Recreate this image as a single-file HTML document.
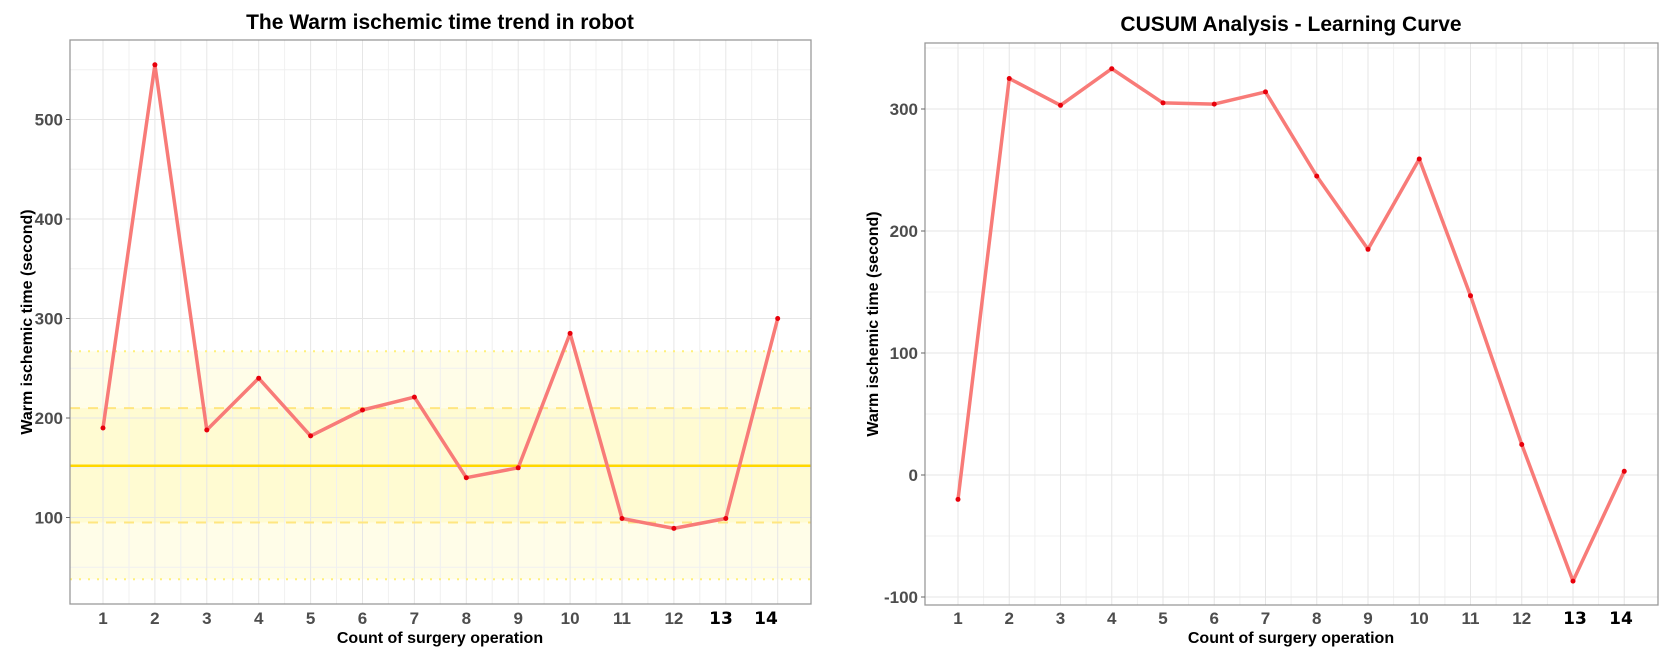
<!DOCTYPE html>
<html><head><meta charset="utf-8"><style>
html,body{margin:0;padding:0;background:#fff;}
svg{display:block;font-family:"Liberation Sans",Arial,sans-serif;}
.tk{font-size:17px;font-weight:bold;fill:#4d4d4d;}
.tb{font-size:17px;font-weight:bold;fill:#000;font-family:"DejaVu Sans","Liberation Sans",sans-serif;}
.at{font-size:16px;font-weight:bold;fill:#000;}
.tt{font-size:21px;font-weight:bold;fill:#000;}
</style></head><body>
<svg width="1671" height="653" viewBox="0 0 1671 653">
<!-- LEFT PANEL -->
<rect x="70" y="40" width="741" height="564" fill="#fff"/>
<rect x="70" y="351.3" width="741" height="227.9" fill="#fffde8"/>
<rect x="70" y="408.1" width="741" height="114.4" fill="#fffbd2"/>
<g stroke="#f0f0f0" stroke-width="1">
<line x1="70" x2="811" y1="567.3" y2="567.3"/><line x1="70" x2="811" y1="467.8" y2="467.8"/><line x1="70" x2="811" y1="368.3" y2="368.3"/><line x1="70" x2="811" y1="268.8" y2="268.8"/><line x1="70" x2="811" y1="169.3" y2="169.3"/><line x1="70" x2="811" y1="69.8" y2="69.8"/>
<line y1="40" y2="604" x1="129" x2="129"/><line y1="40" y2="604" x1="180.8" x2="180.8"/><line y1="40" y2="604" x1="232.7" x2="232.7"/><line y1="40" y2="604" x1="284.6" x2="284.6"/><line y1="40" y2="604" x1="336.5" x2="336.5"/><line y1="40" y2="604" x1="388.4" x2="388.4"/><line y1="40" y2="604" x1="440.3" x2="440.3"/><line y1="40" y2="604" x1="492.2" x2="492.2"/><line y1="40" y2="604" x1="544.1" x2="544.1"/><line y1="40" y2="604" x1="596" x2="596"/><line y1="40" y2="604" x1="647.9" x2="647.9"/><line y1="40" y2="604" x1="699.8" x2="699.8"/><line y1="40" y2="604" x1="751.7" x2="751.7"/>
</g>
<g stroke="#e6e6e6" stroke-width="1">
<line x1="70" x2="811" y1="517.5" y2="517.5"/><line x1="70" x2="811" y1="418" y2="418"/><line x1="70" x2="811" y1="318.5" y2="318.5"/><line x1="70" x2="811" y1="219" y2="219"/><line x1="70" x2="811" y1="119.5" y2="119.5"/>
<line y1="40" y2="604" x1="103" x2="103"/><line y1="40" y2="604" x1="154.9" x2="154.9"/><line y1="40" y2="604" x1="206.8" x2="206.8"/><line y1="40" y2="604" x1="258.7" x2="258.7"/><line y1="40" y2="604" x1="310.6" x2="310.6"/><line y1="40" y2="604" x1="362.5" x2="362.5"/><line y1="40" y2="604" x1="414.4" x2="414.4"/><line y1="40" y2="604" x1="466.3" x2="466.3"/><line y1="40" y2="604" x1="518.2" x2="518.2"/><line y1="40" y2="604" x1="570.1" x2="570.1"/><line y1="40" y2="604" x1="622" x2="622"/><line y1="40" y2="604" x1="673.9" x2="673.9"/><line y1="40" y2="604" x1="725.8" x2="725.8"/><line y1="40" y2="604" x1="777.7" x2="777.7"/>
</g>
<g stroke="#ffe34d" stroke-width="2">
<line x1="70" x2="811" y1="351.3" y2="351.3" stroke-dasharray="2 7" stroke="#fff07a"/>
<line x1="70" x2="811" y1="579.2" y2="579.2" stroke-dasharray="2 7" stroke="#fff07a"/>
<line x1="70" x2="811" y1="408.1" y2="408.1" stroke-dasharray="10 8" stroke="#ffe680"/>
<line x1="70" x2="811" y1="522.5" y2="522.5" stroke-dasharray="10 8" stroke="#ffe680"/>
<line x1="70" x2="811" y1="465.8" y2="465.8" stroke="#ffd700" stroke-width="2.5"/>
</g>
<polyline fill="none" stroke="#f87b78" stroke-width="3.5" stroke-linejoin="round" points="103,428 154.9,64.8 206.8,430 258.7,378.2 310.6,435.9 362.5,410 414.4,397.1 466.3,477.7 518.2,467.8 570.1,333.4 622,518.5 673.9,528.4 725.8,518.5 777.7,318.5"/>
<g fill="#e8000b">
<circle cx="103" cy="428" r="2.5"/><circle cx="154.9" cy="64.8" r="2.5"/><circle cx="206.8" cy="430" r="2.5"/><circle cx="258.7" cy="378.2" r="2.5"/><circle cx="310.6" cy="435.9" r="2.5"/><circle cx="362.5" cy="410" r="2.5"/><circle cx="414.4" cy="397.1" r="2.5"/><circle cx="466.3" cy="477.7" r="2.5"/><circle cx="518.2" cy="467.8" r="2.5"/><circle cx="570.1" cy="333.4" r="2.5"/><circle cx="622" cy="518.5" r="2.5"/><circle cx="673.9" cy="528.4" r="2.5"/><circle cx="725.8" cy="518.5" r="2.5"/><circle cx="777.7" cy="318.5" r="2.5"/>
</g>
<rect x="70" y="40" width="741" height="564" fill="none" stroke="#9a9a9a" stroke-width="1.3"/>
<g stroke="#666" stroke-width="1">
<line x1="66" x2="70" y1="517.5" y2="517.5"/><line x1="66" x2="70" y1="418" y2="418"/><line x1="66" x2="70" y1="318.5" y2="318.5"/><line x1="66" x2="70" y1="219" y2="219"/><line x1="66" x2="70" y1="119.5" y2="119.5"/>
</g>
<g class="tk" text-anchor="end">
<text x="63" y="523.5">100</text><text x="63" y="424">200</text><text x="63" y="324.5">300</text><text x="63" y="225">400</text><text x="63" y="125.5">500</text>
</g>
<g class="tk" text-anchor="middle">
<text x="103" y="624">1</text><text x="154.9" y="624">2</text><text x="206.8" y="624">3</text><text x="258.7" y="624">4</text><text x="310.6" y="624">5</text><text x="362.5" y="624">6</text><text x="414.4" y="624">7</text><text x="466.3" y="624">8</text><text x="518.2" y="624">9</text><text x="570.1" y="624">10</text><text x="622" y="624">11</text><text x="673.9" y="624">12</text>
</g>
<text class="tb" x="721" y="624" text-anchor="middle">13</text><text class="tb" x="766" y="624" text-anchor="middle">14</text>
<text class="at" x="440" y="643" text-anchor="middle">Count of surgery operation</text>
<text class="at" transform="translate(32,322) rotate(-90)" text-anchor="middle">Warm ischemic time (second)</text>
<text class="tt" x="440" y="29" text-anchor="middle">The Warm ischemic time trend in robot</text>

<!-- RIGHT PANEL -->
<g stroke="#f0f0f0" stroke-width="1">
<line x1="925" x2="1658" y1="536" y2="536"/><line x1="925" x2="1658" y1="414" y2="414"/><line x1="925" x2="1658" y1="292" y2="292"/><line x1="925" x2="1658" y1="170" y2="170"/><line x1="925" x2="1658" y1="48" y2="48"/>
<line y1="43" y2="605" x1="983.6" x2="983.6"/><line y1="43" y2="605" x1="1034.9" x2="1034.9"/><line y1="43" y2="605" x1="1086.1" x2="1086.1"/><line y1="43" y2="605" x1="1137.4" x2="1137.4"/><line y1="43" y2="605" x1="1188.6" x2="1188.6"/><line y1="43" y2="605" x1="1239.9" x2="1239.9"/><line y1="43" y2="605" x1="1291.1" x2="1291.1"/><line y1="43" y2="605" x1="1342.4" x2="1342.4"/><line y1="43" y2="605" x1="1393.6" x2="1393.6"/><line y1="43" y2="605" x1="1444.9" x2="1444.9"/><line y1="43" y2="605" x1="1496.1" x2="1496.1"/><line y1="43" y2="605" x1="1547.4" x2="1547.4"/><line y1="43" y2="605" x1="1598.6" x2="1598.6"/>
</g>
<g stroke="#e6e6e6" stroke-width="1">
<line x1="925" x2="1658" y1="597" y2="597"/><line x1="925" x2="1658" y1="475" y2="475"/><line x1="925" x2="1658" y1="353" y2="353"/><line x1="925" x2="1658" y1="231" y2="231"/><line x1="925" x2="1658" y1="109" y2="109"/>
<line y1="43" y2="605" x1="958" x2="958"/><line y1="43" y2="605" x1="1009.25" x2="1009.25"/><line y1="43" y2="605" x1="1060.5" x2="1060.5"/><line y1="43" y2="605" x1="1111.75" x2="1111.75"/><line y1="43" y2="605" x1="1163" x2="1163"/><line y1="43" y2="605" x1="1214.25" x2="1214.25"/><line y1="43" y2="605" x1="1265.5" x2="1265.5"/><line y1="43" y2="605" x1="1316.75" x2="1316.75"/><line y1="43" y2="605" x1="1368" x2="1368"/><line y1="43" y2="605" x1="1419.25" x2="1419.25"/><line y1="43" y2="605" x1="1470.5" x2="1470.5"/><line y1="43" y2="605" x1="1521.75" x2="1521.75"/><line y1="43" y2="605" x1="1573" x2="1573"/><line y1="43" y2="605" x1="1624.25" x2="1624.25"/>
</g>
<polyline fill="none" stroke="#f87b78" stroke-width="3.5" stroke-linejoin="round" points="958,499.4 1009.25,78.5 1060.5,105.3 1111.75,68.7 1163,102.9 1214.25,104.1 1265.5,91.9 1316.75,176.1 1368,249.3 1419.25,159 1470.5,295.7 1521.75,444.5 1573,581.1 1624.25,471.3"/>
<g fill="#e8000b">
<circle cx="958" cy="499.4" r="2.5"/><circle cx="1009.25" cy="78.5" r="2.5"/><circle cx="1060.5" cy="105.3" r="2.5"/><circle cx="1111.75" cy="68.7" r="2.5"/><circle cx="1163" cy="102.9" r="2.5"/><circle cx="1214.25" cy="104.1" r="2.5"/><circle cx="1265.5" cy="91.9" r="2.5"/><circle cx="1316.75" cy="176.1" r="2.5"/><circle cx="1368" cy="249.3" r="2.5"/><circle cx="1419.25" cy="159" r="2.5"/><circle cx="1470.5" cy="295.7" r="2.5"/><circle cx="1521.75" cy="444.5" r="2.5"/><circle cx="1573" cy="581.1" r="2.5"/><circle cx="1624.25" cy="471.3" r="2.5"/>
</g>
<rect x="925" y="43" width="733" height="562" fill="none" stroke="#9a9a9a" stroke-width="1.3"/>
<g stroke="#666" stroke-width="1">
<line x1="921" x2="925" y1="597" y2="597"/><line x1="921" x2="925" y1="475" y2="475"/><line x1="921" x2="925" y1="353" y2="353"/><line x1="921" x2="925" y1="231" y2="231"/><line x1="921" x2="925" y1="109" y2="109"/>
</g>
<g class="tk" text-anchor="end">
<text x="918" y="603">-100</text><text x="918" y="481">0</text><text x="918" y="359">100</text><text x="918" y="237">200</text><text x="918" y="115">300</text>
</g>
<g class="tk" text-anchor="middle">
<text x="958" y="624">1</text><text x="1009.25" y="624">2</text><text x="1060.5" y="624">3</text><text x="1111.75" y="624">4</text><text x="1163" y="624">5</text><text x="1214.25" y="624">6</text><text x="1265.5" y="624">7</text><text x="1316.75" y="624">8</text><text x="1368" y="624">9</text><text x="1419.25" y="624">10</text><text x="1470.5" y="624">11</text><text x="1521.75" y="624">12</text>
</g>
<text class="tb" x="1575" y="624" text-anchor="middle">13</text><text class="tb" x="1621" y="624" text-anchor="middle">14</text>
<text class="at" x="1291" y="643" text-anchor="middle">Count of surgery operation</text>
<text class="at" transform="translate(878,324) rotate(-90)" text-anchor="middle">Warm ischemic time (second)</text>
<text class="tt" x="1291" y="31" text-anchor="middle">CUSUM Analysis - Learning Curve</text>
</svg>
</body></html>
